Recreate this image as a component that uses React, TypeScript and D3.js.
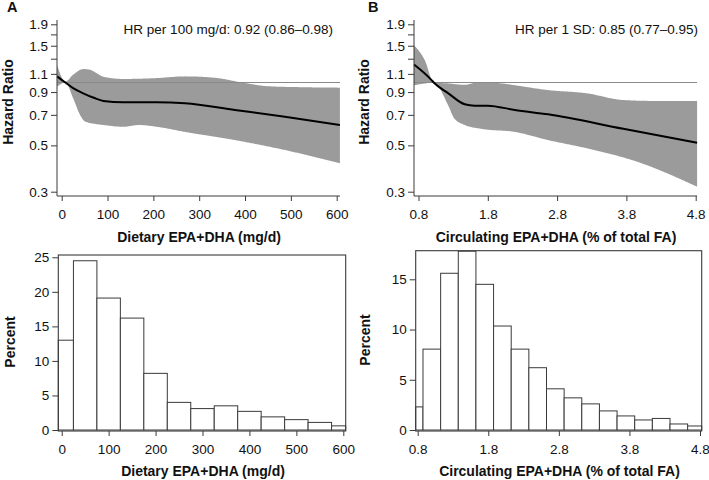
import React, { useEffect, useRef } from 'react';
import * as d3 from 'd3';

// --- spline panels (HR with 95% CI) ---
const dietX = [-10, 0, 8, 25, 47, 70, 91, 134, 207, 269, 378, 487, 607];
const dietHR = [1.07, 1.03, 1.0, 0.94, 0.888, 0.845, 0.816, 0.804, 0.804, 0.795, 0.739, 0.686, 0.626];
const dietUpX = [-10, 8, 25, 47, 62, 91, 134, 207, 269, 340, 393, 450, 520, 607];
const dietUp = [1.21, 1.01, 1.09, 1.16, 1.15, 1.066, 1.04, 1.05, 1.07, 1.05, 1.0, 0.96, 0.95, 0.945];
const dietLoX = [-10, 8, 25, 40, 51, 91, 134, 170, 207, 269, 378, 487, 607];
const dietLo = [0.955, 1.0, 0.84, 0.7, 0.65, 0.626, 0.614, 0.626, 0.614, 0.58, 0.53, 0.475, 0.41];

const circX = [0.735, 0.985, 1.02, 1.226, 1.467, 1.611, 1.8, 2.19, 2.67, 3.755, 4.82];
const circHR = [1.22, 1.03, 1.0, 0.89, 0.787, 0.775, 0.775, 0.738, 0.704, 0.6, 0.515];
const circUpX = [0.735, 0.89, 1.02, 1.226, 1.467, 1.66, 1.8, 2.0, 2.19, 2.67, 3.23, 3.755, 4.24, 4.82];
const circUp = [1.51, 1.28, 1.0, 0.99, 0.975, 1.0, 1.0, 0.99, 0.97, 0.92, 0.888, 0.824, 0.816, 0.816];
const circLoX = [0.735, 0.9, 1.02, 1.226, 1.32, 1.467, 1.706, 2.19, 2.67, 3.23, 3.95, 4.82];
const circLo = [0.97, 0.99, 1.0, 0.78, 0.67, 0.626, 0.6, 0.58, 0.53, 0.484, 0.418, 0.317];

const hrTicks = [0.3, 0.5, 0.7, 0.9, 1.1, 1.3, 1.5, 1.7, 1.9];
const hrLabeled = [0.3, 0.5, 0.7, 0.9, 1.1, 1.5, 1.9];
const dietTicks = [0, 100, 200, 300, 400, 500, 600];
const circTicks = [0.8, 1.8, 2.8, 3.8, 4.8];

// --- histograms ---
const dietBins = [0, 50, 100, 150, 200, 250, 300, 350, 400, 450, 500, 550, 600];
const dietPct = [13.0, 24.5, 19.1, 16.2, 8.2, 4.0, 3.1, 3.5, 2.7, 1.9, 1.5, 1.1, 0.6];
const circBins = [0.75, 1.0, 1.25, 1.5, 1.75, 2.0, 2.25, 2.5, 2.75, 3.0, 3.25, 3.5, 3.75, 4.0, 4.25, 4.5, 4.75];
const circPct = [2.3, 8.05, 15.6, 17.8, 14.5, 10.35, 8.05, 6.2, 4.1, 3.2, 2.6, 1.9, 1.4, 1.0, 1.15, 0.6, 0.4];
const dietPctTicks = [0, 5, 10, 15, 20, 25];
const circPctTicks = [0, 5, 10, 15];

const FONT = '"Liberation Sans", Arial, Helvetica, sans-serif';
const AX = '#3a3a3a';

const App = () => {
  const ref = useRef(null);

  useEffect(() => {
    const svg = d3.select(ref.current);
    svg.selectAll('*').remove();

    const styleAxis = (g) => {
      g.select('.domain').remove();
      g.selectAll('line').attr('stroke', AX);
      g.selectAll('text').attr('fill', '#111').style('font-size', '13.5px').style('font-family', FONT);
    };

    const txt = (x, y, s, opts = {}) => {
      const t = svg.append('text')
        .attr('x', x).attr('y', y)
        .style('font-family', FONT)
        .style('font-size', (opts.size || 13.5) + 'px')
        .style('font-weight', opts.bold ? 'bold' : 'normal')
        .attr('text-anchor', opts.anchor || 'start')
        .attr('fill', '#111')
        .text(s);
      if (opts.rotate) t.attr('transform', `rotate(-90,${x},${y})`);
      return t;
    };

    // ---------- HR panels ----------
    const hrPanel = (o) => {
      const x = d3.scaleLinear().domain(o.xDom).range(o.xRange);
      const y = d3.scaleLog().domain([0.3, 1.9]).range([191.7, 24.3]);
      const g = svg.append('g');
      const lineGen = d3.line().x(d => x(d[0])).y(d => y(d[1])).curve(d3.curveMonotoneX);

      // sample a smooth edge so the band can be closed as one polygon
      const sample = (pts) => {
        const p = g.append('path').attr('d', lineGen(pts)).attr('fill', 'none');
        const node = p.node();
        const len = node.getTotalLength();
        const out = [];
        for (let i = 0; i <= 300; i++) {
          const pt = node.getPointAtLength((len * i) / 300);
          out.push([pt.x, pt.y]);
        }
        p.remove();
        return out;
      };
      const upPts = sample(o.upX.map((v, i) => [v, o.up[i]]));
      const loPts = sample(o.loX.map((v, i) => [v, o.lo[i]])).reverse();
      g.append('path')
        .attr('d', 'M' + upPts.concat(loPts).map(p => p.join(',')).join('L') + 'Z')
        .attr('fill', '#9b9b9b')
        .attr('stroke', 'none');

      // reference line HR = 1
      g.append('line')
        .attr('x1', o.axX0).attr('x2', o.axX1)
        .attr('y1', y(1)).attr('y2', y(1))
        .attr('stroke', '#8a8a8a').attr('stroke-width', 1.1);

      // curve
      g.append('path')
        .attr('d', lineGen(o.cx.map((v, i) => [v, o.cy[i]])))
        .attr('fill', 'none').attr('stroke', '#000').attr('stroke-width', 2);

      // axes
      g.append('g').attr('transform', `translate(${o.axX0},0)`)
        .call(d3.axisLeft(y).tickValues(hrTicks).tickSize(6).tickPadding(3)
          .tickFormat(d => (hrLabeled.includes(d) ? d3.format('.1f')(d) : '')))
        .call(styleAxis);
      g.append('line').attr('x1', o.axX0).attr('x2', o.axX0).attr('y1', 20).attr('y2', 196)
        .attr('stroke', AX);
      g.append('g').attr('transform', 'translate(0,196)')
        .call(d3.axisBottom(x).tickValues(o.ticks).tickSize(5).tickPadding(8)
          .tickFormat(o.fmt))
        .call(styleAxis);
      g.append('line').attr('x1', o.axX0).attr('x2', o.axX1).attr('y1', 196).attr('y2', 196)
        .attr('stroke', AX);
    };

    hrPanel({
      xDom: [0, 600], xRange: [61.7, 336.7], axX0: 57, axX1: 340,
      upX: dietUpX, up: dietUp, loX: dietLoX, lo: dietLo, cx: dietX, cy: dietHR,
      ticks: dietTicks, fmt: d3.format('d'),
    });
    hrPanel({
      xDom: [0.8, 4.8], xRange: [418.5, 695.7], axX0: 414, axX1: 697,
      upX: circUpX, up: circUp, loX: circLoX, lo: circLo, cx: circX, cy: circHR,
      ticks: circTicks, fmt: d3.format('.1f'),
    });

    // ---------- histograms ----------
    const hist = (o) => {
      const x = d3.scaleLinear().domain(o.xDom).range(o.xRange);
      const y = d3.scaleLinear().domain(o.yDom).range(o.yRange);
      const g = svg.append('g');
      o.bins.forEach((c, i) => {
        const x0 = Math.max(x(c - o.w / 2), o.fx0);
        const x1 = Math.min(x(c + o.w / 2), o.fx1);
        const yt = Math.max(y(o.vals[i]), o.fy0);
        g.append('rect')
          .attr('x', x0).attr('y', yt)
          .attr('width', x1 - x0).attr('height', y(0) - yt)
          .attr('fill', '#fff').attr('stroke', AX).attr('stroke-width', 1);
      });
      g.append('rect')
        .attr('x', o.fx0).attr('y', o.fy0)
        .attr('width', o.fx1 - o.fx0).attr('height', o.fy1 - o.fy0)
        .attr('fill', 'none').attr('stroke', AX).attr('stroke-width', 1.1);
      g.append('g').attr('transform', `translate(${o.fx0},0)`)
        .call(d3.axisLeft(y).tickValues(o.yTicks).tickSize(6).tickPadding(3).tickFormat(d3.format('d')))
        .call(styleAxis);
      g.append('g').attr('transform', `translate(0,${o.fy1})`)
        .call(d3.axisBottom(x).tickValues(o.xTicks).tickSize(5).tickPadding(8).tickFormat(o.fmt))
        .call(styleAxis);
    };

    hist({
      xDom: [0, 600], xRange: [61.7, 343.3], yDom: [0, 25], yRange: [430, 257.3],
      fx0: 58.3, fx1: 345.7, fy0: 255, fy1: 431,
      bins: dietBins, vals: dietPct, w: 50, yTicks: dietPctTicks, xTicks: dietTicks, fmt: d3.format('d'),
    });
    hist({
      xDom: [0.8, 4.8], xRange: [417.7, 700], yDom: [0, 15], yRange: [430, 279.3],
      fx0: 415.7, fx1: 701.7, fy0: 250.7, fy1: 431,
      bins: circBins, vals: circPct, w: 0.25, yTicks: circPctTicks, xTicks: circTicks, fmt: d3.format('.1f'),
    });

    // ---------- labels ----------
    txt(7, 11.5, 'A', { bold: true, size: 14.5 });
    txt(368, 11.5, 'B', { bold: true, size: 14.5 });
    txt(333, 34, 'HR per 100 mg/d: 0.92 (0.86\u20130.98)', { anchor: 'end' });
    txt(698, 34, 'HR per 1 SD: 0.85 (0.77\u20130.95)', { anchor: 'end' });
    txt(12.5, 102, 'Hazard Ratio', { bold: true, anchor: 'middle', rotate: true, size: 14 });
    txt(368.5, 102, 'Hazard Ratio', { bold: true, anchor: 'middle', rotate: true, size: 14 });
    txt(15, 342, 'Percent', { bold: true, anchor: 'middle', rotate: true, size: 14 });
    txt(370, 340, 'Percent', { bold: true, anchor: 'middle', rotate: true, size: 14 });
    txt(199, 241.5, 'Dietary EPA+DHA (mg/d)', { bold: true, anchor: 'middle', size: 14 });
    txt(556, 241.5, 'Circulating EPA+DHA (% of total FA)', { bold: true, anchor: 'middle', size: 14 });
    txt(203, 476, 'Dietary EPA+DHA (mg/d)', { bold: true, anchor: 'middle', size: 14 });
    txt(559.5, 476, 'Circulating EPA+DHA (% of total FA)', { bold: true, anchor: 'middle', size: 14 });
  }, []);

  return (
    <svg
      ref={ref}
      width={709}
      height={480}
      style={{ position: 'absolute', left: 0, top: 0, background: '#fff' }}
    />
  );
};

export default App;
